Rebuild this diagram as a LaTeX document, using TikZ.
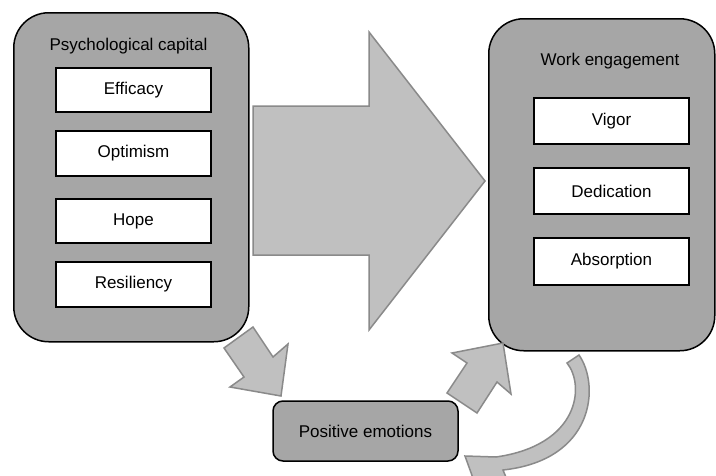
\documentclass[tikz,border=0pt]{standalone}
\usepackage{fontspec}
\setmainfont{Liberation Sans}
\definecolor{outergray}{HTML}{A6A6A6}
\definecolor{arrowfill}{HTML}{C0C0C0}
\definecolor{arrowline}{HTML}{8A8A8A}
\begin{document}
\begin{tikzpicture}[x=1pt,y=-1pt,
  txt/.style={font=\fontsize{17}{20}\selectfont, inner sep=0pt},
  groupbox/.style={draw=black, line width=1.5pt, fill=outergray, rounded corners=35pt, anchor=north west, inner sep=0pt},
  itembox/.style={draw=black, line width=2pt, fill=white, minimum width=155pt, font=\fontsize{17}{20}\selectfont, inner sep=0pt},
  smallbox/.style={draw=black, line width=1.5pt, fill=outergray, rounded corners=10pt, font=\fontsize{17}{20}\selectfont, inner sep=0pt},
  blockarrow/.style={fill=arrowfill, draw=arrowline, line width=1.5pt, line join=miter}]
\useasboundingbox (0,0) rectangle (716,475);
\fill[white] (0,0) rectangle (716,475);

% big arrow
\filldraw[blockarrow] (253,106) -- (369,106) -- (369,32) -- (485,181) -- (369,330) -- (369,255) -- (253,255) -- cycle;

% left group
\node[groupbox, minimum width=235pt, minimum height=329pt] (pc) at (13,12) {};
\node[txt, anchor=base] (pctitle) at (128.5,50) {Psychological capital};
\node[itembox, minimum height=44pt] (eff) at (133.5,90) {Efficacy};
\node[itembox, minimum height=45pt] (opt) at (133.5,153.5) {Optimism};
\node[itembox, minimum height=44pt] (hope) at (133.5,221) {Hope};
\node[itembox, minimum height=45pt] (res) at (133.5,284.5) {Resiliency};

% right group
\node[groupbox, minimum width=226pt, minimum height=332pt] (we) at (488,18) {};
\node[txt, anchor=base] (wetitle) at (610,65) {Work engagement};
\node[itembox, minimum height=46pt] (vig) at (611.5,121) {Vigor};
\node[itembox, minimum height=46pt] (ded) at (611.5,191) {Dedication};
\node[itembox, minimum height=47pt] (abs) at (611.5,261.5) {Absorption};

% positive emotions
\node[smallbox, minimum width=185pt, minimum height=60pt] (pe) at (365.5,431) {Positive emotions};

% small arrows
\filldraw[blockarrow] (224,348) -- (253,327) -- (273,357) -- (288,344) -- (281,396) -- (230,387) -- (244,377) -- cycle;
\filldraw[blockarrow] (503,343) -- (452,353) -- (467,363) -- (447,393) -- (477,413) -- (497,382) -- (511,394) -- cycle;

% curved arrow
\begin{scope}
\clip (0,0) rectangle (716,475);
\filldraw[blockarrow] (579,355) .. controls (600,385) and (595,460) .. (503,470) -- (508,482) -- (478,492) -- (465,456) -- (496,457) .. controls (580,445) and (585,385) .. (567,363) -- cycle;
\end{scope}
\end{tikzpicture}
\end{document}
